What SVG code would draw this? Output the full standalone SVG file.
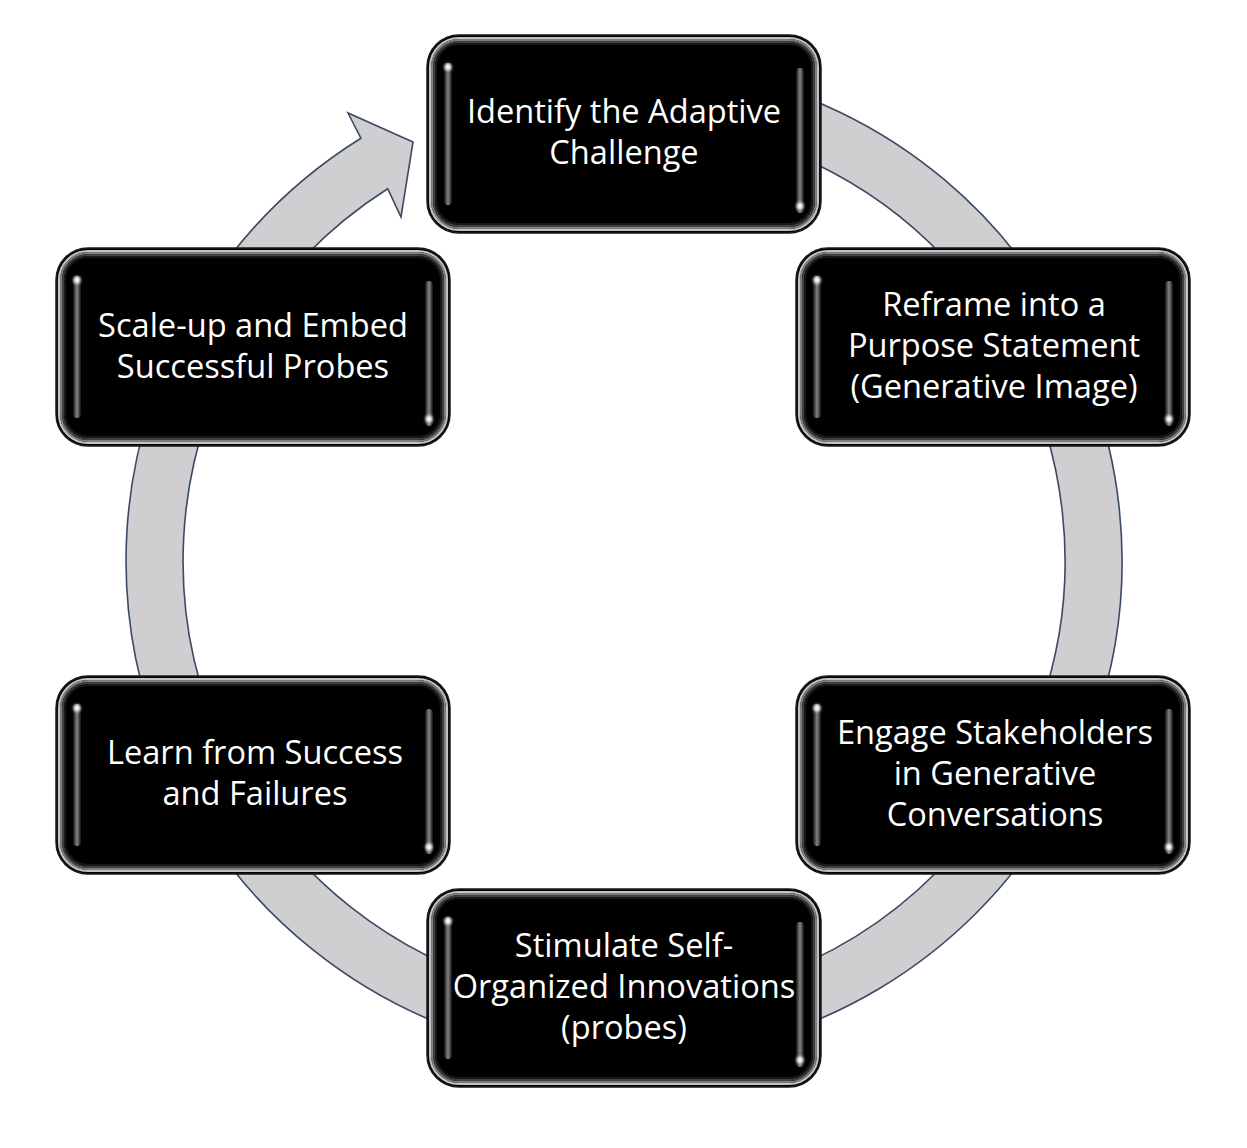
<svg xmlns="http://www.w3.org/2000/svg" width="1247" height="1148" viewBox="0 0 1247 1148">
<style>
.ring{fill:#cfcfd1;stroke:#3b4a63;stroke-width:1.6}
.b0{fill:#000;stroke:#1a1a1a;stroke-width:1.5}
.b1{fill:none;stroke:#c2c2c2;stroke-width:2.2}
.b2{fill:none;stroke:#7e7e7e;stroke-width:2}
.b3{fill:none;stroke:#404040;stroke-width:2}
.b4{fill:none;stroke:#181818;stroke-width:2}
.strip{fill:url(#sg)}
.dot{fill:#fff;filter:url(#soft)}
.t{font-family:"Open Sans","Liberation Sans",sans-serif;font-size:32.6px;fill:#fff;text-anchor:middle}
</style>
<defs>
<linearGradient id="sg" x1="0" y1="0" x2="1" y2="0">
<stop offset="0" stop-color="#111"/>
<stop offset="0.5" stop-color="#858585"/>
<stop offset="1" stop-color="#111"/>
</linearGradient>
<filter id="soft" x="-100%" y="-100%" width="300%" height="300%"><feGaussianBlur stdDeviation="1.4"/></filter>
<g id="box">
<rect class="b0" x="0" y="0" width="394" height="198" rx="32"/>
<rect class="b1" x="3" y="3" width="388" height="192" rx="29"/>
<rect class="b2" x="5" y="5" width="384" height="188" rx="27"/>
<rect class="b3" x="7" y="7" width="380" height="184" rx="25"/>
<rect class="b4" x="9" y="9" width="376" height="180" rx="23"/>
<rect class="strip" x="17" y="28" width="8" height="142" rx="4"/>
<circle class="dot" cx="21" cy="32" r="3.5"/>
<rect class="strip" x="369" y="33" width="8" height="145" rx="4"/>
<circle class="dot" cx="373" cy="171" r="3.5"/>
</g>
</defs>
<rect width="1247" height="1148" fill="#fff"/>
<g id="connectors">
<path class="ring" d="M 624 63 A 498 498 0 1 1 360.9 138.2 L 348 113 L 413 142 L 401 217 L 387.7 188.7 A 441 441 0 1 0 624 120 Z"/>
</g>
<g id="node-identify">
<use href="#box" x="427" y="35"/>
<text class="t" x="624" y="123">Identify the Adaptive</text>
<text class="t" x="624" y="164">Challenge</text>
</g>
<g id="node-reframe">
<use href="#box" x="796" y="248"/>
<text class="t" x="994" y="316">Reframe into a</text>
<text class="t" x="994" y="357">Purpose Statement</text>
<text class="t" x="994" y="398">(Generative Image)</text>
</g>
<g id="node-engage">
<use href="#box" x="796" y="676"/>
<text class="t" x="995" y="744">Engage Stakeholders</text>
<text class="t" x="995" y="785">in Generative</text>
<text class="t" x="995" y="826">Conversations</text>
</g>
<g id="node-stimulate">
<use href="#box" x="427" y="889"/>
<text class="t" x="624" y="957">Stimulate Self-</text>
<text class="t" x="624" y="998">Organized Innovations</text>
<text class="t" x="624" y="1039">(probes)</text>
</g>
<g id="node-learn">
<use href="#box" x="56" y="676"/>
<text class="t" x="255" y="764">Learn from Success</text>
<text class="t" x="255" y="805">and Failures</text>
</g>
<g id="node-scale">
<use href="#box" x="56" y="248"/>
<text class="t" x="253" y="337">Scale-up and Embed</text>
<text class="t" x="253" y="378">Successful Probes</text>
</g>
</svg>
